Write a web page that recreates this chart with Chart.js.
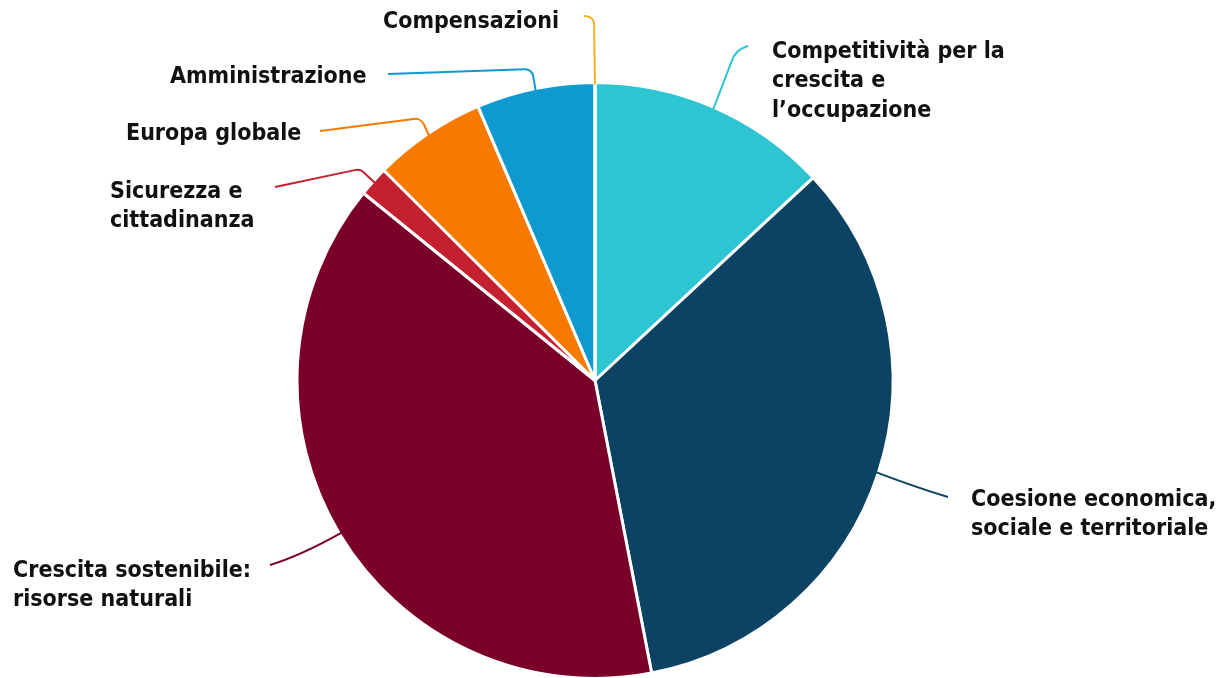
<!DOCTYPE html>
<html lang="it">
<head>
  <meta charset="UTF-8">
  <title>Quadro finanziario pluriennale</title>
  <style>
    body { margin: 0; background: #fff; }
    .wrap { width: 1221px; height: 678px; position: relative; }
  </style>
  <script src="https://cdn.jsdelivr.net/npm/chart.js"></script>
</head>
<body>
  <div class="wrap"><canvas id="pie" width="1221" height="678"></canvas></div>
  <script>
    // Categories and values (milioni di euro)
    const categories = [
      'Competitività per la crescita e l’occupazione',
      'Coesione economica, sociale e territoriale',
      'Crescita sostenibile: risorse naturali',
      'Sicurezza e cittadinanza',
      'Europa globale',
      'Amministrazione',
      'Compensazioni'
    ];
    const values = [125614, 325149, 373179, 15686, 58704, 61629, 27];
    const colors = ['#2EC5D3', '#0C4263', '#7A002B', '#C42030', '#F77A00', '#0E99D1', '#F5B025'];

    // label layout: text lines, text position, leader elbow and end
    const labelLines = [
      ['Competitività per la', 'crescita e', 'l’occupazione'],
      ['Coesione economica,', 'sociale e territoriale'],
      ['Crescita sostenibile:', 'risorse naturali'],
      ['Sicurezza e', 'cittadinanza'],
      ['Europa globale'],
      ['Amministrazione'],
      ['Compensazioni']
    ];
    const labelPos = [
      { x: 772, y: 52, elbow: [736, 50], end: [748, 46], r: 22 },
      { x: 971, y: 500, elbow: [918, 488], end: [948, 497], curve: true },
      { x: 13, y: 571, elbow: [300, 556], end: [270, 565], curve: true },
      { x: 110, y: 192, elbow: [360, 169], end: [275, 187], r: 8 },
      { x: 126, y: 134, elbow: [421, 118], end: [320, 131], r: 10 },
      { x: 170, y: 77, elbow: [532, 69], end: [388, 74], r: 8 },
      { x: 383, y: 22, elbow: [594, 17], end: [584, 16], r: 8 }
    ];

    const leaderLabels = {
      id: 'leaderLabels',
      afterDatasetsDraw(chart) {
        const ctx = chart.ctx;
        const meta = chart.getDatasetMeta(0);
        ctx.save();
        meta.data.forEach((arc, i) => {
          const p = arc.getProps(['x', 'y', 'startAngle', 'endAngle', 'outerRadius'], true);
          const mid = (p.startAngle + p.endAngle) / 2;
          const sx = p.x + Math.cos(mid) * (p.outerRadius - 2);
          const sy = p.y + Math.sin(mid) * (p.outerRadius - 2);
          const lp = labelPos[i];
          ctx.beginPath();
          ctx.strokeStyle = colors[i];
          ctx.lineWidth = 2;
          ctx.moveTo(sx, sy);
          if (lp.curve) {
            ctx.quadraticCurveTo(lp.elbow[0], lp.elbow[1], lp.end[0], lp.end[1]);
          } else {
            ctx.arcTo(lp.elbow[0], lp.elbow[1], lp.end[0], lp.end[1], lp.r);
            ctx.lineTo(lp.end[0], lp.end[1]);
          }
          ctx.stroke();

          ctx.fillStyle = '#111';
          ctx.font = 'bold 23px "DejaVu Sans Condensed", "DejaVu Sans", sans-serif';
          ctx.textAlign = 'left';
          ctx.textBaseline = 'middle';
          labelLines[i].forEach((t, k) => ctx.fillText(t, lp.x, lp.y + k * 29.5));
        });
        ctx.restore();
      }
    };

    new Chart(document.getElementById('pie'), {
      type: 'pie',
      data: {
        labels: categories,
        datasets: [{
          data: values,
          backgroundColor: colors,
          borderColor: '#ffffff',
          borderWidth: 3,
          radius: 298
        }]
      },
      options: {
        responsive: false,
        animation: false,
        layout: { padding: { top: 83, bottom: 0, left: 0, right: 31 } },
        plugins: { legend: { display: false }, tooltip: { enabled: false } }
      },
      plugins: [leaderLabels]
    });
  </script>
</body>
</html>
